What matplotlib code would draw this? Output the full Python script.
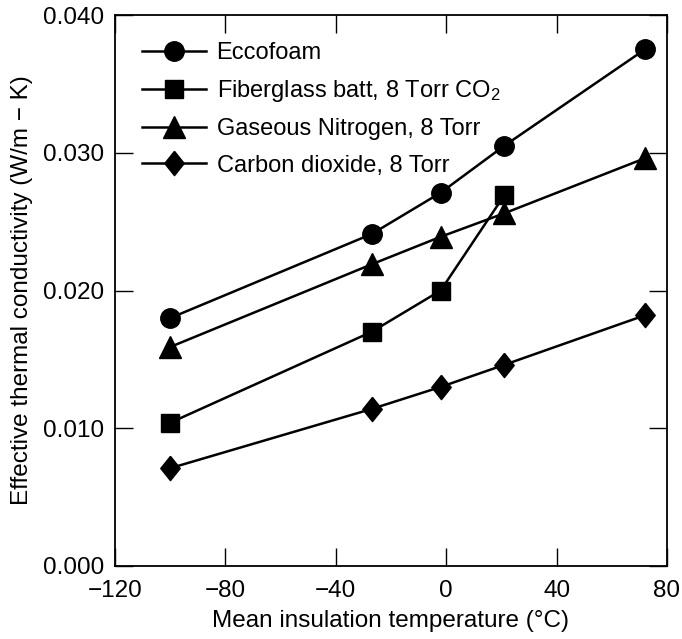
import matplotlib
matplotlib.use('Agg')
import matplotlib.pyplot as plt

plt.rcParams['font.family'] = ['Liberation Sans', 'DejaVu Sans']
plt.rcParams['mathtext.fontset'] = 'custom'
plt.rcParams['mathtext.rm'] = 'Liberation Sans'
plt.rcParams['mathtext.it'] = 'Liberation Sans'

# Data
temps = [-100, -27, -2, 21, 72]
eccofoam = [0.0180, 0.0241, 0.0271, 0.0305, 0.0375]
fiberglass_temps = [-100, -27, -2, 21]
fiberglass = [0.0104, 0.0170, 0.0200, 0.0269]
nitrogen = [0.0159, 0.0219, 0.0239, 0.0256, 0.0296]
co2 = [0.0071, 0.0114, 0.0130, 0.0146, 0.0182]

FS = 17.5

fig = plt.figure(figsize=(6.82, 6.39), dpi=100)
ax = fig.add_axes([115 / 682, 73 / 639, 552 / 682, 551 / 639])

# tall diamond like the one in the figure
diamond = [(0, 1), (0.8, 0), (0, -1), (-0.8, 0), (0, 1)]

style = dict(color='black', linewidth=1.8)
ax.plot(temps, eccofoam, marker='o', markersize=14,
        label='Eccofoam', **style)
ax.plot(fiberglass_temps, fiberglass, marker='s', markersize=13,
        label='Fiberglass batt, 8 Torr CO$_2$', **style)
ax.plot(temps, nitrogen, marker='^', markersize=15.5,
        label='Gaseous Nitrogen, 8 Torr', **style)
ax.plot(temps, co2, marker=diamond, markersize=17.5,
        label='Carbon dioxide, 8 Torr', **style)

ax.set_xlim(-120, 80)
ax.set_ylim(0, 0.040)
ax.set_xticks([-120, -80, -40, 0, 40, 80])
ax.set_yticks([0.0, 0.01, 0.02, 0.03, 0.04])
ax.set_yticklabels(['0.000', '0.010', '0.020', '0.030', '0.040'])
ax.tick_params(direction='in', length=13, width=1, top=True, right=True,
               labelsize=FS)
ax.tick_params(axis='y', pad=8)
ax.tick_params(axis='x', pad=10)
for s in ax.spines.values():
    s.set_linewidth(1.3)

ax.set_xlabel('Mean insulation temperature (°C)', fontsize=FS, labelpad=6)
ax.set_ylabel('Effective thermal conductivity (W/m − K)', fontsize=FS, labelpad=7)

ax.legend(loc='upper left', frameon=False, fontsize=17, handlelength=2.7,
          handletextpad=0.45, labelspacing=0.6, borderaxespad=0.55,
          borderpad=0.6)

fig.savefig('out.png', dpi=100)
